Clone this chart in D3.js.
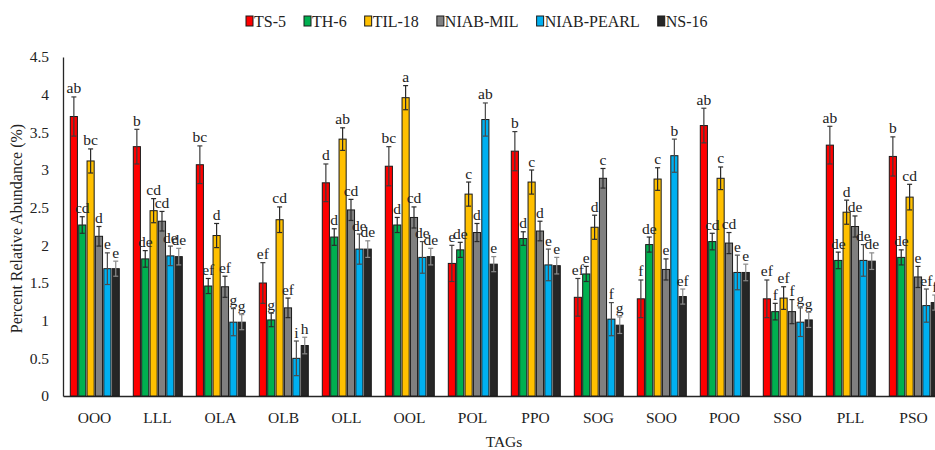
<!DOCTYPE html>
<html>
<head>
<meta charset="utf-8">
<script src="https://cdn.jsdelivr.net/npm/d3@7"></script>
<style>
  html, body { margin: 0; padding: 0; background: #fff; }
  svg { display: block; font-family: "Liberation Serif", "Times New Roman", serif; }
</style>
</head>
<body>
<svg id="chart" width="935" height="450"></svg>
<script>
// TAG species on the x axis
const categories = ["OOO", "LLL", "OLA", "OLB", "OLL", "OOL", "POL", "PPO", "SOG", "SOO", "POO", "SSO", "PLL", "PSO"];

// Cultivars (one bar per cultivar inside each TAG group)
const seriesNames = ["TS-5", "TH-6", "TIL-18", "NIAB-MIL", "NIAB-PEARL", "NS-16"];
const seriesColors = ["#FF0000", "#00B050", "#FFC000", "#808080", "#00B0F0", "#262626"];

// Mean percent relative abundance per cultivar, in category order
const ts5       = [3.71, 3.31, 3.07, 1.50, 2.83, 3.05, 1.76, 3.25, 1.31, 1.29, 3.59, 1.29, 3.33, 3.18];
const th6       = [2.27, 1.82, 1.46, 1.01, 2.11, 2.27, 1.94, 2.09, 1.62, 2.01, 2.05, 1.12, 1.80, 1.84];
const til18     = [3.12, 2.46, 2.13, 2.34, 3.41, 3.96, 2.68, 2.84, 2.24, 2.88, 2.89, 1.30, 2.44, 2.64];
const niabMil   = [2.12, 2.32, 1.45, 1.17, 2.47, 2.37, 2.17, 2.19, 2.89, 1.68, 2.03, 1.12, 2.25, 1.58];
const niabPearl = [1.69, 1.86, 0.98, 0.50, 1.95, 1.84, 3.67, 1.74, 1.02, 3.19, 1.64, 0.98, 1.80, 1.20];
const ns16      = [1.69, 1.85, 0.98, 0.67, 1.95, 1.85, 1.75, 1.73, 0.94, 1.32, 1.64, 1.01, 1.79, 1.24];

// Standard errors
const ts5Err       = [0.26, 0.23, 0.25, 0.27, 0.25, 0.26, 0.24, 0.26, 0.25, 0.25, 0.23, 0.25, 0.25, 0.26];
const th6Err       = [0.11, 0.11, 0.10, 0.09, 0.11, 0.10, 0.10, 0.09, 0.10, 0.10, 0.11, 0.11, 0.11, 0.10];
const til18Err     = [0.16, 0.16, 0.16, 0.17, 0.15, 0.16, 0.16, 0.16, 0.16, 0.15, 0.15, 0.15, 0.16, 0.17];
const niabMilErr   = [0.13, 0.13, 0.14, 0.13, 0.14, 0.14, 0.12, 0.13, 0.13, 0.14, 0.14, 0.16, 0.14, 0.14];
const niabPearlErr = [0.21, 0.13, 0.18, 0.23, 0.20, 0.21, 0.22, 0.21, 0.22, 0.22, 0.23, 0.19, 0.21, 0.22];
const ns16Err      = [0.10, 0.11, 0.10, 0.11, 0.11, 0.11, 0.10, 0.11, 0.11, 0.10, 0.11, 0.10, 0.11, 0.10];

// Significance letters
const ts5Sig       = ["ab", "b", "bc", "ef", "d", "bc", "e", "b", "ef", "f", "ab", "ef", "ab", "b"];
const th6Sig       = ["cd", "de", "ef", "g", "d", "d", "de", "d", "e", "de", "cd", "f", "de", "de"];
const til18Sig     = ["bc", "cd", "d", "cd", "ab", "a", "c", "c", "d", "c", "c", "ef", "d", "cd"];
const niabMilSig   = ["d", "cd", "ef", "ef", "cd", "cd", "d", "d", "c", "e", "cd", "f", "de", "e"];
const niabPearlSig = ["e", "de", "g", "i", "de", "de", "ab", "e", "f", "b", "e", "g", "de", "ef"];
const ns16Sig      = ["e", "de", "g", "h", "de", "de", "e", "e", "g", "ef", "e", "g", "de", "f"];

const yTicks = [0, 0.5, 1, 1.5, 2, 2.5, 3, 3.5, 4, 4.5];

const seriesValues = [ts5, th6, til18, niabMil, niabPearl, ns16];
const seriesErrors = [ts5Err, th6Err, til18Err, niabMilErr, niabPearlErr, ns16Err];
const seriesSig = [ts5Sig, th6Sig, til18Sig, niabMilSig, niabPearlSig, ns16Sig];

const svg = d3.select("#chart");
const plotLeft = 63, plotRight = 945, plotTop = 57, plotBottom = 396;

const x0 = d3.scaleBand().domain(categories).range([plotLeft, plotRight]).padding(0);
const x1 = d3.scaleBand().domain(seriesNames).range([7.3, 56.3]).paddingInner(0.15).paddingOuter(0);
const y = d3.scaleLinear().domain([0, 4.5]).range([plotBottom, plotTop]);

// Flattened records for drawing
const records = [];
seriesNames.forEach((s, si) => {
  categories.forEach((c, ci) => {
    records.push({
      series: s, si, cat: c,
      value: seriesValues[si][ci],
      err: seriesErrors[si][ci],
      sig: seriesSig[si][ci]
    });
  });
});

// Axes
const yAxis = d3.axisLeft(y).tickValues(yTicks).tickSize(0).tickPadding(14).tickFormat(d => String(d));
const gy = svg.append("g").attr("transform", `translate(${plotLeft},0)`).call(yAxis);
gy.select(".domain").attr("stroke", "#262626").attr("stroke-width", 1.3);
gy.selectAll("text").attr("font-family", "Liberation Serif").attr("font-size", 15.5).attr("fill", "#222");

const xAxis = d3.axisBottom(x0).tickSize(0).tickPadding(16);
const gx = svg.append("g").attr("transform", `translate(0,${plotBottom})`).call(xAxis);
gx.select(".domain").attr("stroke", "#262626").attr("stroke-width", 1.6);
gx.selectAll("text").attr("font-family", "Liberation Serif").attr("font-size", 15.5).attr("fill", "#222");

// Bars
const barX = d => x0(d.cat) + x1(d.series);
const bw = x1.bandwidth();

svg.append("g").selectAll("rect").data(records).join("rect")
  .attr("x", barX)
  .attr("y", d => y(d.value))
  .attr("width", bw)
  .attr("height", d => y(0) - y(d.value))
  .attr("fill", d => seriesColors[d.si])
  .attr("stroke", "#1a1a1a")
  .attr("stroke-width", 1);

// Error bars with caps at both ends
const errColors = ["#3c3c3c", "#2a2a2a", "#2a2a2a", "#2a2a2a", "#4a4a4a", "#8a8a8a"];
const eg = svg.append("g");
records.forEach(d => {
  const cx = barX(d) + bw / 2;
  const y1 = y(d.value + d.err), y2 = y(d.value - d.err);
  const col = errColors[d.si];
  eg.append("line").attr("x1", cx).attr("x2", cx).attr("y1", y1).attr("y2", y2)
    .attr("stroke", col).attr("stroke-width", 1.2);
  [y1, y2].forEach(yy => {
    eg.append("line").attr("x1", cx - 2.5).attr("x2", cx + 2.5).attr("y1", yy).attr("y2", yy)
      .attr("stroke", col).attr("stroke-width", 1.2);
  });
});

// Significance letters
svg.append("g").selectAll("text").data(records).join("text")
  .attr("x", d => barX(d) + bw / 2)
  .attr("y", d => y(d.value + d.err) - 3.5)
  .attr("text-anchor", "middle")
  .attr("font-size", 15.5)
  .attr("fill", "#222")
  .text(d => d.sig);

// Axis titles
svg.append("text")
  .attr("transform", `translate(22,${(plotTop + plotBottom) / 2 + 2}) rotate(-90)`)
  .attr("text-anchor", "middle")
  .attr("font-size", 16)
  .attr("fill", "#222")
  .text("Percent Relative Abundance (%)");

svg.append("text")
  .attr("x", (plotLeft + plotRight) / 2)
  .attr("y", 447)
  .attr("text-anchor", "middle")
  .attr("font-size", 15.5)
  .attr("fill", "#222")
  .text("TAGs");

// Legend
const lg = svg.append("g");
let lx = 246;
seriesNames.forEach((s, i) => {
  lg.append("rect").attr("x", lx).attr("y", 16).attr("width", 7).attr("height", 10)
    .attr("fill", seriesColors[i]).attr("stroke", "#1a1a1a").attr("stroke-width", 1);
  const t = lg.append("text").attr("x", lx + 8).attr("y", 27)
    .attr("font-size", 16).attr("fill", "#222").text(s);
  lx += 8 + t.node().getComputedTextLength() + 18;
});
</script>
</body>
</html>
